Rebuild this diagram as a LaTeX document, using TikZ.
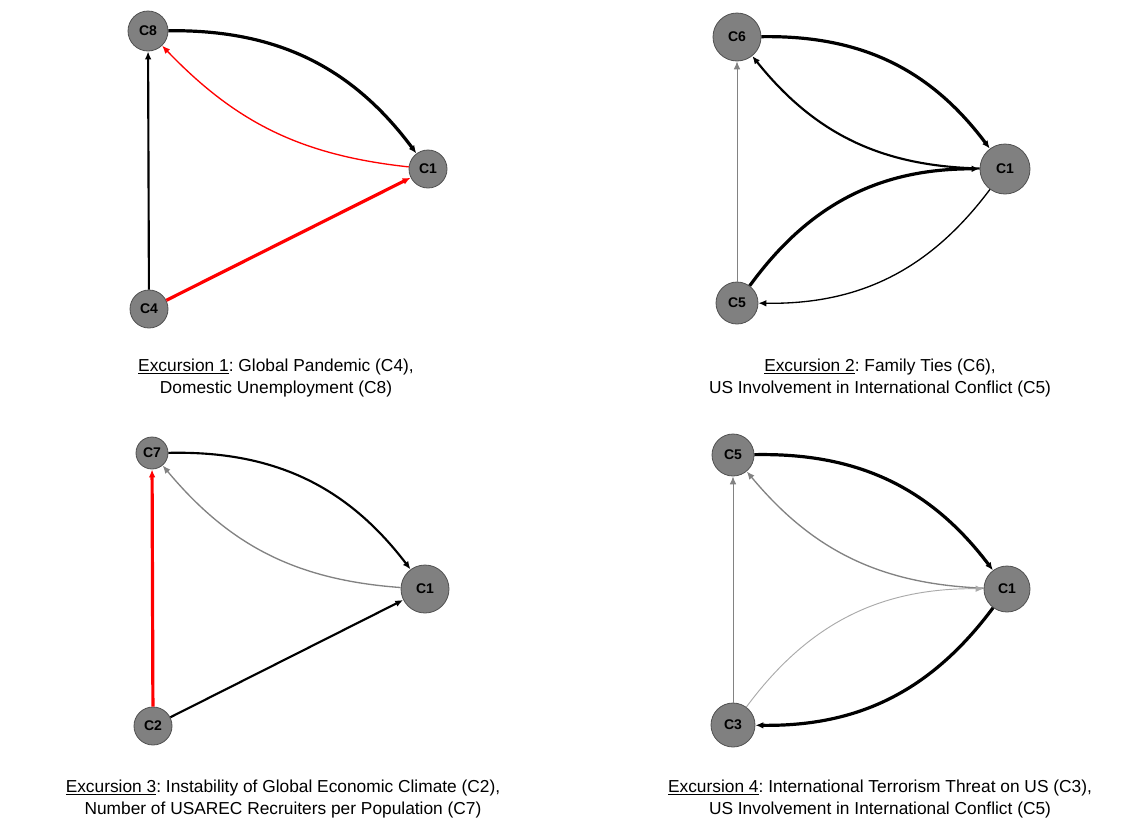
\documentclass[tikz,border=0pt]{standalone}
\usepackage{fontspec}
\setmainfont{Liberation Sans}
\usetikzlibrary{arrows.meta}
\frenchspacing

\definecolor{nodefill}{RGB}{128,128,128}
\definecolor{nodeline}{RGB}{80,80,80}
\definecolor{redlink}{RGB}{255,0,0}
\definecolor{graylink}{RGB}{130,130,130}
\definecolor{palelink}{RGB}{170,170,170}

\tikzset{
  concept/.style={circle, draw=nodeline, fill=nodefill, line width=0.6pt, inner sep=0pt,
    font=\fontsize{10.5}{10.5}\selectfont\bfseries, text=black},
  edgebase/.style={-{Latex[length=6pt,width=5pt]}, draw=black},
  edgeheavy/.style={edgebase, line width=2.4pt},
  edgemedium/.style={edgebase, line width=1.6pt},
  edgelight/.style={edgebase, line width=1pt},
  edgefine/.style={edgebase, line width=0.7pt},
  excursiontext/.style={align=center, inner sep=0pt, font=\fontsize{13}{16.5}\selectfont},
}

\begin{document}
\begin{tikzpicture}[x=0.75pt,y=0.75pt,yscale=-1,xscale=1]
\useasboundingbox (0,0) rectangle (1146,825);

%Excursion 1
\node [concept, minimum size=30pt] (e1c8) at (148,31) {C8};
\node [concept, minimum size=28.5pt] (e1c1) at (428,169) {C1};
\node [concept, minimum size=28.5pt] (e1c4) at (149,309) {C4};
\draw [edgemedium] (e1c4) -- (e1c8);
\draw [edgeheavy] (e1c8) to [bend right=27] (e1c1);
\draw [edgelight, draw=redlink, -{Latex[length=6pt,width=5pt,fill=redlink]}] (e1c1) to [bend right=20] (e1c8);
\draw [edgeheavy, draw=redlink, -{Latex[length=6pt,width=5pt,fill=redlink]}] (e1c4) -- (e1c1);
% Text Node
\node [excursiontext] (e1text) at (276,378) {\underline{Excursion 1}: Global Pandemic (C4),\\Domestic Unemployment (C8)};

%Excursion 2
\node [concept, minimum size=36pt] (e2c6) at (737,37) {C6};
\node [concept, minimum size=37.5pt] (e2c1) at (1005,169) {C1};
\node [concept, minimum size=31.5pt] (e2c5) at (737,303) {C5};
\draw [edgefine, draw=graylink] (e2c5) -- (e2c6);
\draw [edgeheavy] (e2c6) to [bend right=27] (e2c1);
\draw [edgemedium] (e2c1) to [bend right=25] (e2c6);
\draw [edgeheavy] (e2c5) to [bend right=27] (e2c1);
\draw [edgelight] (e2c1) to [bend right=27] (e2c5);
% Text Node
\node [excursiontext] (e2text) at (880,378) {\underline{Excursion 2}: Family Ties (C6),\\US Involvement in International Conflict (C5)};

%Excursion 3
\node [concept, minimum size=24pt] (e3c7) at (152,453) {C7};
\node [concept, minimum size=36pt] (e3c1) at (425,589) {C1};
\node [concept, minimum size=28.5pt] (e3c2) at (153,726) {C2};
\draw [edgeheavy, draw=redlink, -{Latex[length=6pt,width=5pt,fill=redlink]}] (e3c2) -- (e3c7);
\draw [edgemedium] (e3c7) to [bend right=27] (e3c1);
\draw [edgelight, draw=graylink] (e3c1) to [bend right=23] (e3c7);
\draw [edgemedium] (e3c2) -- (e3c1);
% Text Node
\node [excursiontext] (e3text) at (283,799) {\underline{Excursion 3}: Instability of Global Economic Climate (C2),\\Number of USAREC Recruiters per Population (C7)};

%Excursion 4
\node [concept, minimum size=31.5pt] (e4c5) at (733,455) {C5};
\node [concept, minimum size=34.5pt] (e4c1) at (1007,589) {C1};
\node [concept, minimum size=33pt] (e4c3) at (733,725) {C3};
\draw [edgefine, draw=graylink] (e4c3) -- (e4c5);
\draw [edgeheavy] (e4c5) to [bend right=27] (e4c1);
\draw [edgelight, draw=graylink] (e4c1) to [bend right=24] (e4c5);
\draw [edgefine, draw=palelink] (e4c3) to [bend right=27] (e4c1);
\draw [edgeheavy] (e4c1) to [bend right=27] (e4c3);
% Text Node
\node [excursiontext] (e4text) at (880,799) {\underline{Excursion 4}: International Terrorism Threat on US (C3),\\US Involvement in International Conflict (C5)};

\end{tikzpicture}
\end{document}
